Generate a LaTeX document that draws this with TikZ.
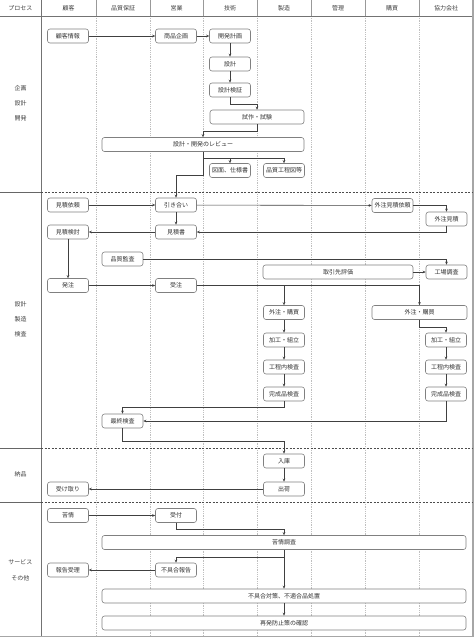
\documentclass[tikz,border=0pt]{standalone}
\usepackage{fontspec}
\setmainfont{Noto Sans CJK JP}
\usetikzlibrary{arrows.meta, positioning}

\tikzset{
  box/.style={draw=black!50, line width=0.6pt, rounded corners=2.5pt, fill=white,
    minimum width=41pt, minimum height=14pt, inner sep=0pt, text=black!80,
    font=\fontsize{6}{7}\selectfont},
  hdr/.style={text=black!75, font=\fontsize{6}{7}\selectfont, inner sep=0pt},
  sect/.style={text=black!75, font=\fontsize{6}{15}\selectfont, align=center, inner sep=0pt},
  lane/.style={draw=black!25, line width=0.8pt, dash pattern=on 1pt off 0.8pt},
  divider/.style={draw=black!70, line width=0.6pt, dash pattern=on 2pt off 1.5pt},
  flow/.style={draw=black!75, line width=0.6pt, ->}
}

\begin{document}
\begin{tikzpicture}[x=1pt, y=-1pt, >={Stealth[length=3pt, width=2.6pt]}]
  \useasboundingbox (0,0) rectangle (474,638);

  % lanes
  \foreach \x in {96,150,203,257,311,365,419} {
    \draw[draw=black!40, line width=0.6pt] (\x,0) -- (\x,16);
    \draw[lane] (\x,16) -- (\x,636);
  }
  \draw[draw=black!55, line width=0.7pt] (41,0) -- (41,636);
  \draw[draw=black!55, line width=0.7pt] (0,16) -- (473,16);
  \draw[draw=black!35, line width=1.2pt] (473,0) -- (473,636.5) -- (0,636.5);
  \foreach \y in {192,448,502} {
    \draw[draw=black!60, line width=0.6pt] (0,\y) -- (41,\y);
    \draw[divider] (41,\y) -- (473,\y);
  }

  % headers
  \node[hdr] (hProcess) at (20.5,8) {プロセス};
  \node[hdr] (hKokyaku) at (68.5,8) {顧客};
  \node[hdr] (hHinsho) at (123,8) {品質保証};
  \node[hdr] (hEigyo) at (176.5,8) {営業};
  \node[hdr] (hGijutsu) at (230,8) {技術};
  \node[hdr] (hSeizo) at (284,8) {製造};
  \node[hdr] (hKanri) at (338,8) {管理};
  \node[hdr] (hKobai) at (392,8) {購買};
  \node[hdr] (hKyoryoku) at (446,8) {協力会社};

  % sections
  \node[sect] (sKikaku) at (20.5,103) {企画\\設計\\開発};
  \node[sect] (sSeizo) at (20.5,319) {設計\\製造\\検査};
  \node[sect] (sNohin) at (20.5,474) {納品};
  \node[sect, font=\fontsize{6}{16}\selectfont] (sService) at (20.5,570) {サービス\\その他};

  % 企画・設計・開発
  \node[box] (kokyakujoho) at (68,36) {顧客情報};
  \node[box] (shohinkikaku) at (176,36) {商品企画};
  \node[box] (kaihatsukeikaku) at (230,36) {開発計画};
  \node[box] (sekkei) at (230,64) {設計};
  \node[box] (kensho) at (230,90) {設計検証};
  \node[box, minimum width=94pt] (shisaku) at (257,117) {試作・試験};
  \node[box, minimum width=202pt] (review) at (203,144.5) {設計・開発のレビュー};
  \node[box] (zumen) at (230,170.5) {図面、仕様書};
  \node[box] (hinshitsuzu) at (284,170.5) {品質工程図等};

  \draw[flow] (kokyakujoho) -- (shohinkikaku);
  \draw[flow] (shohinkikaku) -- (kaihatsukeikaku);
  \draw[flow] (kaihatsukeikaku) -- (sekkei);
  \draw[flow] (sekkei) -- (kensho);
  \draw[flow] (kensho.south) -- ++(0,7) -| (shisaku.north);
  \draw[flow] (shisaku.south) -- ++(0,7) -| (review.north);
  \draw[flow] (review.south) -- ++(0,6) -| (zumen.north);
  \draw[flow] (review.south) -- ++(0,6) -| (hinshitsuzu.north);

  % 設計・製造・検査
  \node[box] (mitsumoriirai) at (68,205) {見積依頼};
  \node[box] (hikiai) at (176,205) {引き合い};
  \node[box] (gaichuirai) at (392.5,205.5) {外注見積依頼};
  \node[box] (gaichumitsumori) at (446.5,219) {外注見積};
  \node[box] (mitsumorikento) at (68,232) {見積検討};
  \node[box] (mitsumorisho) at (176,232) {見積書};
  \node[box] (hinshitsukansa) at (122.5,259) {品質監査};
  \node[box, minimum width=150pt] (torihiki) at (338,272) {取引先評価};
  \node[box] (kojochosa) at (446.5,272) {工場調査};
  \node[box] (hatchu) at (68,285.5) {発注};
  \node[box] (juchu) at (176,285.5) {受注};
  \node[box] (gaichuA) at (284,312.5) {外注・購買};
  \node[box, minimum width=95pt] (gaichuB) at (419.5,312.5) {外注・購買};
  \node[box] (kakoA) at (284,340) {加工・組立};
  \node[box] (kakoB) at (446,340) {加工・組立};
  \node[box] (koteiA) at (284,367) {工程内検査};
  \node[box] (koteiB) at (446,367) {工程内検査};
  \node[box] (kanseiA) at (284,394) {完成品検査};
  \node[box] (kanseiB) at (446,394) {完成品検査};
  \node[box] (saishu) at (122.5,421) {最終検査};

  \draw[flow] (review.south) -- ++(0,23) -| (hikiai.north);
  \draw[flow] (mitsumoriirai) -- (hikiai);
  \draw[flow] (hikiai) -- (gaichuirai);
  \draw[flow] (gaichuirai.east) -| (gaichumitsumori.north);
  \draw[flow] (hikiai) -- (mitsumorisho);
  \draw[flow] (gaichumitsumori.south) |- (mitsumorisho.east);
  \draw[flow] (mitsumorisho) -- (mitsumorikento);
  \draw[flow] (mitsumorikento) -- (hatchu);
  \draw[flow] (hinshitsukansa.east) -| (kojochosa.north);
  \draw[flow] (torihiki) -- (kojochosa);
  \draw[flow] (hatchu) -- (juchu);
  \draw[flow] (juchu.east) -| (gaichuB.north);
  \draw[flow] (juchu.east) -| (gaichuA.north);
  \draw[flow] (gaichuB.south) -- ++(0,7) -| (kakoB.north);
  \draw[flow] (gaichuA) -- (kakoA);
  \draw[flow] (kakoA) -- (koteiA);
  \draw[flow] (koteiA) -- (kanseiA);
  \draw[flow] (kakoB) -- (koteiB);
  \draw[flow] (koteiB) -- (kanseiB);
  \draw[flow] (kanseiA.south) -- ++(0,6) -| (saishu.north);
  \draw[flow] (kanseiB.south) |- (saishu.east);

  % 納品
  \node[box] (nyuko) at (284,461) {入庫};
  \node[box] (shukka) at (284,489) {出荷};
  \node[box] (uketori) at (68,489) {受け取り};

  \draw[flow] (saishu.south) -- ++(0,13) -| (nyuko.north);
  \draw[flow] (nyuko) -- (shukka);
  \draw[flow] (shukka) -- (uketori);

  % サービス・その他
  \node[box] (kujo) at (68,515.5) {苦情};
  \node[box] (uketsuke) at (176,515.5) {受付};
  \node[box, minimum width=364pt] (kujochosa) at (284,542.5) {苦情調査};
  \node[box] (fuguai) at (176,570) {不具合報告};
  \node[box] (hokoku) at (68,570) {報告受理};
  \node[box, minimum width=364pt] (taisaku) at (284,596) {不具合対策、不適合品処置};
  \node[box, minimum width=364pt] (saihatsu) at (284,623) {再発防止策の確認};

  \draw[flow] (kujo) -- (uketsuke);
  \draw[flow] (uketsuke.south) -- ++(0,6) -| (kujochosa.north);
  \draw[flow] (kujochosa.south) -- ++(0,7) -| (fuguai.north);
  \draw[flow] (kujochosa) -- (taisaku);
  \draw[flow] (fuguai) -- (hokoku);
  \draw[flow] (taisaku) -- (saihatsu);
\end{tikzpicture}
\end{document}
